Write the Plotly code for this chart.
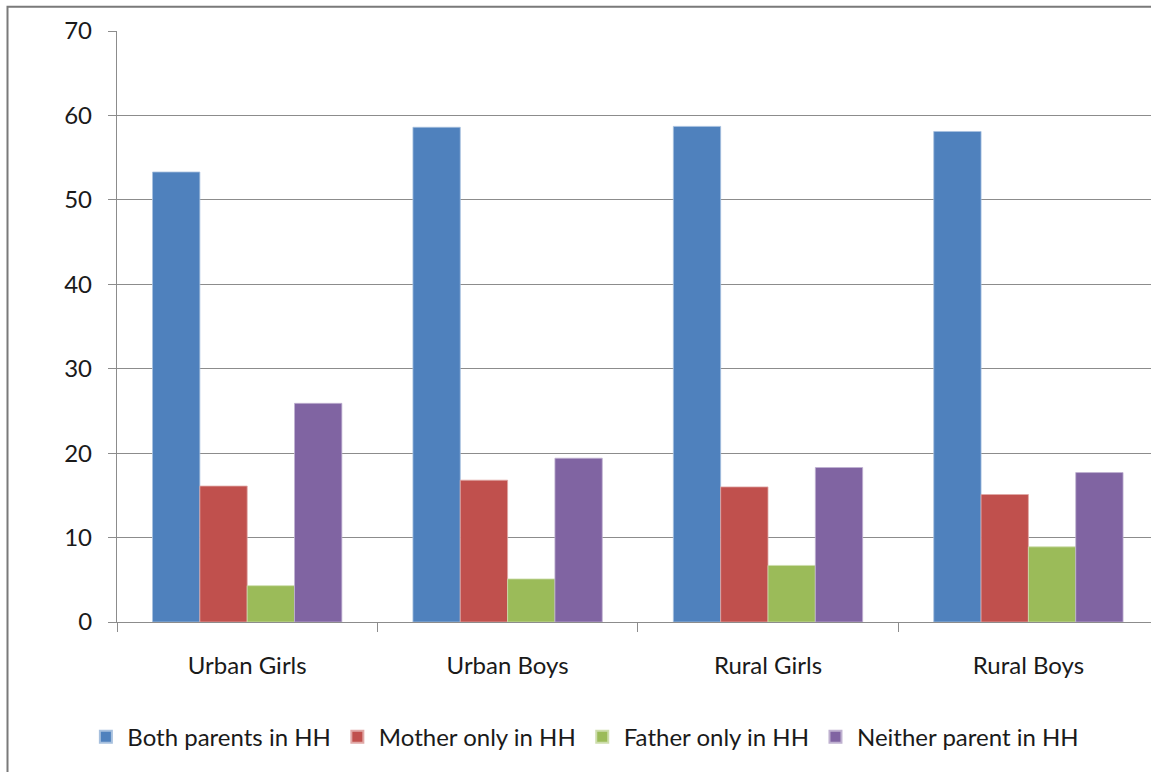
import plotly.graph_objects as go

categories = ["Urban Girls", "Urban Boys", "Rural Girls", "Rural Boys"]
both_parents = [53.3, 58.6, 58.7, 58.1]
mother_only = [16.1, 16.8, 16.0, 15.1]
father_only = [4.3, 5.1, 6.7, 8.9]
neither_parent = [25.9, 19.4, 18.3, 17.7]
series_names = ["Both parents in HH", "Mother only in HH", "Father only in HH", "Neither parent in HH"]
y_ticks = [0, 10, 20, 30, 40, 50, 60, 70]

colors = ["#4F81BD", "#C0504D", "#9BBB59", "#8064A2"]
edges = ["#A7C0DE", "#E0A8A6", "#CDDDAC", "#BFB1D0"]

FONT = "Lato, 'Open Sans', sans-serif"
TXT = "#1a1a1a"
W, H = 1151, 772
L, T, B_AX = 117, 31, 622
R_AX = W

fig = go.Figure()
for name, vals, c, e in zip(series_names, [both_parents, mother_only, father_only, neither_parent], colors, edges):
    fig.add_trace(go.Bar(x=categories, y=vals, name=name,
                         marker=dict(color=c, line=dict(color=e, width=0.8))))

plot_w = R_AX - L
cat_w = 260.4
x_max = -0.5 + plot_w / cat_w

fig.update_layout(
    width=W, height=H,
    margin=dict(l=L, r=W - R_AX, t=T, b=H - B_AX, pad=0),
    paper_bgcolor="white", plot_bgcolor="white",
    barmode="group", bargap=0.273, bargroupgap=0,
    font=dict(family=FONT, size=24, color=TXT),
    showlegend=True,
    legend=dict(orientation="h", x=0.452, xanchor="center", y=-0.195, yanchor="middle",
                font=dict(family=FONT, size=24, color=TXT),
                itemsizing="constant", traceorder="normal", itemwidth=33),
    xaxis=dict(type="category", range=[-0.5, x_max], showgrid=False,
               showline=True, linecolor="#8c8c8c", linewidth=1.3,
               ticks="outside", tickson="boundaries", ticklen=9, tickcolor="#8c8c8c", tickwidth=1.3,
               tickfont=dict(family=FONT, size=24, color=TXT),
               ticklabelstandoff=22),
    yaxis=dict(range=[0, 70], tickvals=y_ticks, showgrid=True, gridcolor="#8c8c8c", gridwidth=1.3,
               showline=True, linecolor="#8c8c8c", linewidth=1.3, zeroline=False,
               ticks="outside", ticklen=8, tickcolor="#8c8c8c", tickwidth=1.3,
               tickfont=dict(family=FONT, size=24, color=TXT),
               ticklabelstandoff=11),
)

# outer chart frame (cropped on right and bottom)
fx0 = (7.5 - L) / plot_w
fy1 = 1 + (T - 6.7) / (B_AX - T)
fig.add_shape(type="rect", xref="paper", yref="paper", x0=fx0, x1=1.2, y0=-0.6, y1=fy1,
              line=dict(color="#7a7a7a", width=2), fillcolor="rgba(0,0,0,0)", layer="below")

fig.write_html("out.html", config={"displayModeBar": False},
               post_script="document.body.style.margin='0';document.body.style.overflow='hidden';")
